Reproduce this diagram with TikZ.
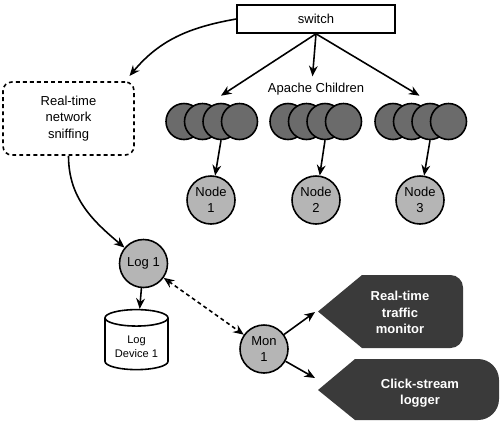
\documentclass[tikz,border=0pt]{standalone}
\usepackage{fontspec}
\setmainfont{Liberation Sans}
\usetikzlibrary{arrows.meta, positioning, shapes.geometric}
\definecolor{hostgray}{HTML}{B5B5B5}
\definecolor{childgray}{HTML}{6B6B6B}
\definecolor{outdark}{HTML}{3A3A3A}

\begin{document}
\begin{tikzpicture}[>={Stealth[length=6pt,width=5pt]}, line width=0.9pt,
    font=\fontsize{7.4}{9.2}\selectfont,
    host/.style={circle, draw, fill=hostgray, minimum size=0.96cm, inner sep=0pt, align=center},
    child/.style={circle, draw, fill=childgray, minimum size=0.72cm, inner sep=0pt},
    outtext/.style={text=white, font=\fontsize{7.4}{9.2}\selectfont\bfseries, align=center}]
  \useasboundingbox (0,0) rectangle (10,-8.42);

  % Switch
  \node[draw, minimum width=3.16cm, minimum height=0.56cm] (switch) at (6.32,-0.38) {switch};

  % Sniffer
  \node[draw, dash pattern=on 2.2pt off 1.8pt, rounded corners=5pt, minimum width=2.62cm,
    minimum height=1.46cm, align=center] (sniff) at (1.37,-2.37) {Real-time\\network\\sniffing};
  \draw[->] (switch.west) to[out=190, in=50] ([shift={(-3pt,3pt)}]sniff.north east);

  % Apache children
  \node (apache) at (6.32,-1.78) {Apache Children};
  \foreach \g/\x in {1/3.68, 2/5.76, 3/7.86}
    \foreach \i in {1,...,4}
      \node[child] (c\g\i) at ({\x+0.37*(\i-1)},-2.43) {};
  \draw[->] (switch.south) -- ([yshift=4pt]c13.north);
  \draw[->] (switch.south) -- ([xshift=-2pt]apache.north);
  \draw[->] (switch.south) -- ([shift={(-6pt,4pt)}]c33.north);

  % Nodes
  \node[host] (n1) at (4.22,-4.0) {Node\\1};
  \node[host] (n2) at (6.32,-4.0) {Node\\2};
  \node[host] (n3) at (8.40,-4.0) {Node\\3};
  \draw[->] (c13.south) -- (n1);
  \draw[->] (c23.south) -- (n2);
  \draw[->] (c33.south) -- (n3);

  % Logging
  \node[host] (log) at (2.87,-5.27) {Log 1};
  \node[cylinder, shape border rotate=90, draw, fill=white, aspect=0.3, minimum width=1.26cm,
    minimum height=1.2cm, align=center, font=\fontsize{6.3}{7.9}\selectfont] (dev) at (2.73,-6.93) {Log\\Device 1};
  \draw[->] (sniff.south) to[out=-90, in=140] (log);
  \draw[->] (log) -- (dev);

  % Monitor
  \node[host] (mon) at (5.28,-6.98) {Mon\\1};
  \draw[dash pattern=on 2.2pt off 1.8pt, {Stealth[open,length=6pt,width=5pt]}-{Stealth[length=6pt,width=5pt]}] (log) -- (mon);

  % Outputs
  \fill[outdark] (6.36,-6.23) -- (7.24,-5.50) -- (9.01,-5.50) arc[start angle=90, end angle=0, radius=0.25]
    -- (9.26,-6.71) arc[start angle=0, end angle=-90, radius=0.25] -- (7.24,-6.96) -- cycle;
  \node[outtext] (rtm) at (8.0,-6.25) {Real-time\\traffic\\monitor};
  \fill[outdark] (6.36,-7.80) -- (7.10,-7.18) -- (9.56,-7.18) arc[start angle=90, end angle=0, radius=0.42]
    -- (9.98,-7.98) arc[start angle=0, end angle=-90, radius=0.42] -- (7.10,-8.40) -- cycle;
  \node[outtext] (clk) at (8.40,-7.86) {Click-stream\\logger};
  \coordinate (rtmin) at (6.30,-6.24);
  \coordinate (clkin) at (6.30,-7.56);
  \draw[->] (mon) -- (rtmin);
  \draw[->] (mon) -- (clkin);
\end{tikzpicture}
\end{document}
